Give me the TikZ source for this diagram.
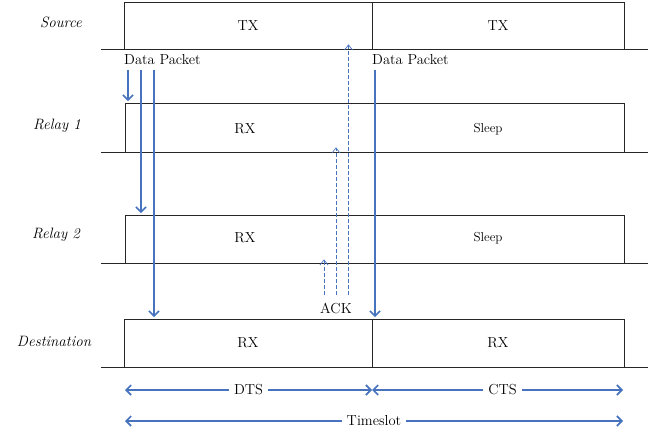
\documentclass[tikz,border=0pt]{standalone}
\usetikzlibrary{arrows.meta,positioning}
\definecolor{pblue}{RGB}{70,114,190}
\tikzset{
  slot/.style={draw=black!85, line width=0.8pt, inner sep=0pt, minimum height=47pt,
    font=\fontsize{14.5}{17}\selectfont},
  base/.style={draw=black!85, line width=0.8pt},
  who/.style={font=\fontsize{15}{18}\selectfont\itshape},
  msg/.style={font=\fontsize{14.5}{17}\selectfont, inner sep=1pt},
  nap/.style={font=\fontsize{13}{15}\selectfont, inner sep=1pt},
  pkt/.style={draw=pblue, line width=1.6pt, shorten >=1.5pt,
    -{Straight Barb[length=5pt,width=10pt]}},
  ack/.style={draw=pblue, line width=0.7pt, dash pattern=on 4pt off 2pt,
    -{Straight Barb[length=5pt,width=8pt]}},
  span/.style={draw=pblue, line width=1.6pt,
    {Straight Barb[length=5pt,width=10pt]}-{Straight Barb[length=5pt,width=10pt]}}
}

\begin{document}
\begin{tikzpicture}[x=1pt,y=-1pt]
\useasboundingbox (0,0) rectangle (654,433);
% nodes on the left
\node[who] (src) at (61,22) {Source};
\node[who] (rel1) at (57,126) {Relay 1};
\node[who] (rel2) at (56,235) {Relay 2};
\node[who] (dst) at (54,341) {Destination};

% time slots
\node[slot, minimum width=248pt] (tx1) at (248,25.5) {TX};
\node[slot, minimum width=252pt] (tx2) at (498,25.5) {TX};
\node[slot, minimum width=499pt, minimum height=49pt] (r1) at (374.5,127.5) {};
\node[msg] (rx1) at (245,129) {RX};
\node[nap] (sl1) at (488,129) {Sleep};
\node[slot, minimum width=499pt, minimum height=48pt] (r2) at (374.5,239) {};
\node[msg] (rx2) at (245,238) {RX};
\node[nap] (sl2) at (488,238) {Sleep};
\node[slot, minimum width=248pt, minimum height=48pt] (rx3) at (248,343) {RX};
\node[slot, minimum width=252pt, minimum height=48pt] (rx4) at (498,343) {RX};
\foreach \y in {49,152,263,367}
  \draw[base] (101,\y) -- (648,\y);

% data packets
\node[msg, anchor=west] (dp1) at (123,60) {Data Packet};
\node[msg, anchor=west] (dp2) at (371,60) {Data Packet};
\coordinate (p1) at (128,70);
\coordinate (p2) at (141,70);
\coordinate (p3) at (154,70);
\coordinate (p4) at (375,70);
\draw[pkt] (p1) -- (p1 |- r1.north);
\draw[pkt] (p2) -- (p2 |- r2.north);
\draw[pkt] (p3) -- (p3 |- rx3.north);
\draw[pkt] (p4) -- (p4 |- rx4.north);

% acknowledgements
\node[msg] (ack) at (336,308) {ACK};
\coordinate (a1) at (324,295);
\coordinate (a2) at (336,295);
\coordinate (a3) at (348.5,295);
\draw[ack] (a1) -- ([yshift=4pt]a1 |- r2.south);
\draw[ack] (a2) -- ([yshift=5pt]a2 |- r1.south);
\draw[ack] (a3) -- ([yshift=5pt]a3 |- tx1.south);

% slot lengths
\coordinate (dl) at (125,390);
\coordinate (dm) at (372,390);
\coordinate (dr) at (623,390);
\draw[span] (dl) -- node[msg, fill=white, inner xsep=5pt] (dts) {DTS} (dm);
\draw[span] (dm) -- node[msg, fill=white, inner xsep=5pt, xshift=5pt] (cts) {CTS} (dr);
\coordinate (tl) at (125,421);
\coordinate (tr) at (623,421);
\draw[span] (tl) -- node[msg, fill=white, inner xsep=5pt] (slot) {Timeslot} (tr);
\end{tikzpicture}
\end{document}
